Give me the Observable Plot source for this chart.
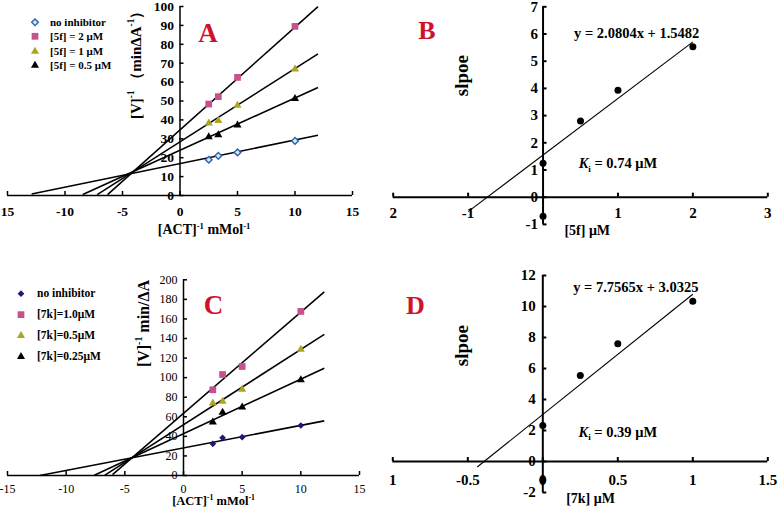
<!DOCTYPE html>
<html>
<head>
<meta charset="utf-8">
<script src="https://cdn.jsdelivr.net/npm/d3@7"></script>
<script src="https://cdn.jsdelivr.net/npm/@observablehq/plot@0.6"></script>
<style>
html,body{margin:0;padding:0;background:#fff;}
#wrap{position:relative;width:777px;height:507px;overflow:hidden;background:#fff;font-family:"Liberation Serif","Times New Roman",serif;}
#wrap > svg{position:absolute;left:0;top:0;}
.lg{position:absolute;left:0;font-weight:bold;color:#000;}
.lg .row{position:relative;white-space:nowrap;}
.lg svg{position:absolute;top:0;overflow:visible;}
.lg span{position:absolute;top:0;}
</style>
</head>
<body>
<div id="wrap"></div>
<script>
// ---------- Panel A : Lineweaver–Burk plot, compound 5f ----------
const actInv = [2.5, 3.33, 5, 10];
const seriesA = ["no inhibitor", "[5f] = 2 μM", "[5f] = 1 μM", "[5f] = 0.5 μM"];
const aNoInhibitor = [18.9, 21.0, 22.8, 28.9];
const a5f2 = [48.4, 52.3, 62.5, 89.5];
const a5f1 = [38.3, 39.6, 47.7, 66.8];
const a5f05 = [31.0, 32.1, 37.2, 51.2];
const aFitSlope = [1.25, 5.44, 3.88, 2.77];
const aFitIntercept = [16.9, 34.7, 28.4, 23.9];
const aFitFrom = [-12.9, -6.3, -7.2, -8.45];
const aFitTo = [12, 12, 12, 12];
const aXTicks = [-15, -10, -5, 0, 5, 10, 15];
const aXLabels = ["15", "-10", "-5", "0", "5", "10", "15"];
const aYTicks = [0, 10, 20, 30, 40, 50, 60, 70, 80, 90, 100];
const aYLabels = ["0", "10", "20", "30", "40", "50", "60", "70", "80", "90", "100"];

// ---------- Panel B : secondary plot, 5f ----------
const bConc = [0, 0, 0.5, 1, 2];
const bSlope = [1.25, -0.7, 2.8, 3.93, 5.53];
const bFitSlope = 2.0804;
const bFitIntercept = 1.5482;
const bFitRange = [-1, 2];
const bEquation = "y = 2.0804x + 1.5482";
const bKi = "{i:K}_{i} = 0.74 μM";
const bXTicks = [-2, -1, 1, 2, 3];
const bXLabels = ["2", "-1", "1", "2", "3"];
const bYTicks = [-1, 0, 1, 2, 3, 4, 5, 6, 7];
const bYLabels = ["-1", "0", "1", "2", "3", "4", "5", "6", "7"];

// ---------- Panel C : Lineweaver–Burk plot, compound 7k ----------
const seriesC = ["no inhibitor", "[7k]=1.0μM", "[7k]=0.5μM", "[7k]=0.25μM"];
const cNoInhibitor = [32.4, 38.5, 39.2, 51.1];
const c7k10 = [87.6, 103.2, 111.4, 167.7];
const c7k05 = [74.0, 75.7, 88.0, 128.8];
const c7k025 = [54.5, 64.4, 69.9, 97.8];
const cFitSlope = [2.305, 10.35, 7.69, 5.58];
const cFitIntercept = [28.2, 63.5, 51.9, 42.7];
const cFitFrom = [-12.25, -6.05, -6.7, -7.6];
const cFitTo = [12, 12, 12, 12];
const cXTicks = [-15, -10, -5, 0, 5, 10, 15];
const cXLabels = ["-15", "-10", "-5", "0", "5", "10", "15"];
const cYTicks = [0, 20, 40, 60, 80, 100, 120, 140, 160, 180, 200];
const cYLabels = ["0", "20", "40", "60", "80", "100", "120", "140", "160", "180", "200"];

// ---------- Panel D : secondary plot, 7k ----------
const dConc = [0, 0, 0.25, 0.5, 1];
const dSlope = [2.32, -1.2, 5.55, 7.6, 10.34];
const dFitSlope = 7.7565;
const dFitIntercept = 3.0325;
const dFitRange = [-0.437, 1];
const dEquation = "y = 7.7565x + 3.0325";
const dKi = "{i:K}_{i} = 0.39 μM";
const dXTicks = [-1, -0.5, 0, 0.5, 1, 1.5];
const dXLabels = ["1", "-0.5", "0", "0.5", "1", "1.5"];
const dYTicks = [-2, 0, 2, 4, 6, 8, 10, 12];
const dYLabels = ["-2", "0", "2", "4", "6", "8", "10", "12"];

// ---------- styling ----------
const symbolsLB = ["diamond2", "square", "triangle", "triangle"];
const fillsA = ["#d8e7f7", "#c9508f", "#aba61f", "#000000"];
const strokesA = ["#2a62ae", "none", "none", "none"];
const fillsC = ["#1b1b6e", "#c9508f", "#aba61f", "#000000"];
const strokesC = ["none", "none", "none", "none"];
const symbolR = [3, 3.8, 3, 3];
const RED = "#d0112b";
const SERIF = "'Liberation Serif','Times New Roman',serif";
const W = 777, H = 507;
const wrap = document.getElementById("wrap");

function frame(xDomain, xPix, yDomain, yPix, marks) {
  return Plot.plot({
    width: W, height: H,
    marginLeft: xPix[0], marginRight: W - xPix[1],
    marginTop: yPix[1], marginBottom: H - yPix[0],
    x: {domain: xDomain, axis: null},
    y: {domain: yDomain, axis: null},
    style: {background: "transparent", overflow: "visible", fontFamily: SERIF, color: "#000"},
    marks
  });
}

function axisMarks(o) {
  return [
    Plot.ruleY([0], {x1: o.xExtent[0], x2: o.xExtent[1], stroke: "#000", strokeWidth: o.sw}),
    Plot.ruleX([0], {y1: o.yExtent[0], y2: o.yExtent[1], stroke: "#000", strokeWidth: o.sw}),
    Plot.ruleX(o.xTicks, {x: d => d, y1: 0, y2: 0, insetTop: -4, stroke: "#000", strokeWidth: o.sw}),
    Plot.ruleY(o.yTicks, {y: d => d, x1: 0, x2: 0, insetRight: -4, stroke: "#000", strokeWidth: o.sw}),
    Plot.text(o.xTicks, {x: d => d, y: 0, text: (d, i) => o.xLabels[i], dy: o.xdy, fontSize: o.fs, fontWeight: o.fw, fill: "#000"}),
    Plot.text(o.yTicks, {x: 0, y: d => d, text: (d, i) => o.yLabels[i], dx: o.ydx, textAnchor: "end", fontSize: o.fs, fontWeight: o.fw, fill: "#000"})
  ];
}

function fitLinks(slopes, intercepts, from, to, sw) {
  const idx = slopes.map((_, k) => k);
  return Plot.link(idx, {
    x1: k => from[k], y1: k => slopes[k] * from[k] + intercepts[k],
    x2: k => to[k], y2: k => slopes[k] * to[k] + intercepts[k],
    stroke: "#000", strokeWidth: sw
  });
}

function seriesDots(xs, valueSets, fills, strokes) {
  return valueSets.map((vals, k) => Plot.dot(xs.map((x, i) => ({x, y: vals[i]})), {
    x: "x", y: "y", symbol: symbolsLB[k], r: symbolR[k],
    fill: fills[k], stroke: strokes[k], strokeWidth: strokes[k] === "none" ? 0 : 1.4
  }));
}

function richify(svg) {
  const NS = "http://www.w3.org/2000/svg";
  svg.querySelectorAll("text").forEach(t => {
    const s = t.textContent;
    if (!/\^\{|_\{|\{i:/.test(s)) return;
    const fs = parseFloat(getComputedStyle(t).fontSize) || 12;
    t.textContent = "";
    const re = /\^\{([^}]*)\}|_\{([^}]*)\}|\{i:([^}]*)\}|([^{}^_]+)/g;
    let m, shift = 0;
    while ((m = re.exec(s))) {
      const ts = document.createElementNS(NS, "tspan");
      let target = 0, small = false;
      if (m[1] !== undefined) { ts.textContent = m[1]; target = -0.42 * fs; small = true; }
      else if (m[2] !== undefined) { ts.textContent = m[2]; target = 0.25 * fs; small = true; }
      else if (m[3] !== undefined) { ts.textContent = m[3]; ts.setAttribute("font-style", "italic"); }
      else ts.textContent = m[4];
      if (small) ts.setAttribute("font-size", (fs * 0.62).toFixed(1));
      if (target !== shift) { ts.setAttribute("dy", (target - shift).toFixed(2)); shift = target; }
      t.appendChild(ts);
    }
  });
}

function add(svg) { wrap.appendChild(svg); richify(svg); }

function legend(names, fills, strokes, cfg) {
  const box = document.createElement("div");
  box.className = "lg";
  box.style.top = cfg.top + "px";
  box.style.fontSize = cfg.fontSize + "px";
  const types = {diamond2: d3.symbolDiamond2, square: d3.symbolSquare, triangle: d3.symbolTriangle};
  names.forEach((name, k) => {
    const row = document.createElement("div");
    row.className = "row";
    row.style.height = cfg.rowH + "px";
    const s = d3.create("svg").attr("width", 12).attr("height", cfg.rowH)
      .style("left", (cfg.markerX - 6) + "px");
    s.append("path")
      .attr("d", d3.symbol(types[symbolsLB[k]], symbolR[k] * symbolR[k] * Math.PI)())
      .attr("transform", `translate(6,${cfg.rowH / 2})`)
      .attr("fill", fills[k]).attr("stroke", strokes[k])
      .attr("stroke-width", strokes[k] === "none" ? 0 : 1.4);
    row.appendChild(s.node());
    const sp = document.createElement("span");
    sp.textContent = name;
    sp.style.left = cfg.textX + "px";
    sp.style.lineHeight = cfg.rowH + "px";
    row.appendChild(sp);
    box.appendChild(row);
  });
  wrap.appendChild(box);
}

// ---------- Panel A ----------
add(frame([-15, 15], [7, 352], [0, 100], [195, 6], [
  ...axisMarks({xExtent: [-15, 15], yExtent: [0, 100], xTicks: aXTicks, xLabels: aXLabels,
    yTicks: aYTicks, yLabels: aYLabels, sw: 1.5, fs: 13.5, fw: "bold", xdy: 16, ydx: -6}),
  fitLinks(aFitSlope, aFitIntercept, aFitFrom, aFitTo, 1.6),
  ...seriesDots(actInv, [aNoInhibitor, a5f2, a5f1, a5f05], fillsA, strokesA),
  Plot.text(["A"], {x: 2.43, y: 85.7, fontSize: 27, fontWeight: "bold", fill: RED}),
  Plot.text(["[V]^{-1} （minΔA^{-1}）"], {x: -3.85, y: 71, rotate: -90, fontSize: 15, fontWeight: "bold", fill: "#000"}),
  Plot.text(["[ACT]^{-1} mMol^{-1}"], {x: 2.1, y: -18.2, fontSize: 14, fontWeight: "bold", fill: "#000"})
]));

// ---------- Panel B ----------
add(frame([-2, 3], [392.7, 767.3], [-1, 7], [223.9, 6.3], [
  ...axisMarks({xExtent: [-2, 3], yExtent: [-1, 7], xTicks: bXTicks, xLabels: bXLabels,
    yTicks: bYTicks, yLabels: bYLabels, sw: 2, fs: 15, fw: "bold", xdy: 16, ydx: -5}),
  Plot.link([0], {x1: bFitRange[0], y1: bFitSlope * bFitRange[0] + bFitIntercept,
    x2: bFitRange[1], y2: bFitSlope * bFitRange[1] + bFitIntercept, stroke: "#000", strokeWidth: 1.1}),
  Plot.dot(bConc.map((x, i) => ({x, y: bSlope[i]})), {x: "x", y: "y", r: 3.5, fill: "#000"}),
  Plot.text(["B"], {x: -1.55, y: 6.13, fontSize: 26, fontWeight: "bold", fill: RED}),
  Plot.text(["slpoe"], {x: -1.08, y: 4.47, rotate: -90, fontSize: 19, fontWeight: "bold", fill: "#000"}),
  Plot.text([bEquation], {x: 1.25, y: 6.02, fontSize: 14.5, fontWeight: "bold", fill: "#000"}),
  Plot.text([bKi], {x: 1.0, y: 1.24, fontSize: 14.5, fontWeight: "bold", fill: "#000"}),
  Plot.text(["[5f] μM"], {x: 0.59, y: -1.22, fontSize: 14, fontWeight: "bold", fill: "#000"})
]));

// ---------- Panel C ----------
add(frame([-15, 15], [7, 359], [0, 200], [475, 279.3], [
  ...axisMarks({xExtent: [-15, 15], yExtent: [0, 200], xTicks: cXTicks, xLabels: cXLabels,
    yTicks: cYTicks, yLabels: cYLabels, sw: 1.5, fs: 12, fw: "normal", xdy: 13.5, ydx: -6}),
  fitLinks(cFitSlope, cFitIntercept, cFitFrom, cFitTo, 1.6),
  ...seriesDots(actInv, [cNoInhibitor, c7k10, c7k05, c7k025], fillsC, strokesC),
  Plot.text(["C"], {x: 2.56, y: 173.7, fontSize: 27, fontWeight: "bold", fill: RED}),
  Plot.text(["[V]^{-1} min/ΔA"], {x: -3.38, y: 155.3, rotate: -90, fontSize: 16, fontWeight: "bold", fill: "#000"}),
  Plot.text(["[ACT]^{-1} mMol^{-1}"], {x: 2.56, y: -26.5, fontSize: 12.5, fontWeight: "bold", fill: "#000"})
]));

// ---------- Panel D ----------
add(frame([-1, 1.5], [392.3, 767.3], [-2, 12], [492, 275], [
  ...axisMarks({xExtent: [-1, 1.5], yExtent: [-2, 12], xTicks: dXTicks, xLabels: dXLabels,
    yTicks: dYTicks, yLabels: dYLabels, sw: 2, fs: 15, fw: "bold", xdy: 19, ydx: -7}),
  Plot.link([0], {x1: dFitRange[0], y1: dFitSlope * dFitRange[0] + dFitIntercept,
    x2: dFitRange[1], y2: dFitSlope * dFitRange[1] + dFitIntercept, stroke: "#000", strokeWidth: 1.1}),
  Plot.dot(dConc.map((x, i) => ({x, y: dSlope[i]})), {x: "x", y: "y", r: 3.5, fill: "#000"}),
  Plot.text(["D"], {x: -0.85, y: 10.06, fontSize: 26, fontWeight: "bold", fill: RED}),
  Plot.text(["slpoe"], {x: -0.537, y: 7.48, rotate: -90, fontSize: 19, fontWeight: "bold", fill: "#000"}),
  Plot.text([dEquation], {x: 0.62, y: 11.23, fontSize: 14.5, fontWeight: "bold", fill: "#000"}),
  Plot.text([dKi], {x: 0.5, y: 1.89, fontSize: 14.5, fontWeight: "bold", fill: "#000"}),
  Plot.text(["[7k] μM"], {x: 0.318, y: -2.41, fontSize: 14, fontWeight: "bold", fill: "#000"})
]));

// ---------- Legends ----------
legend(seriesA, fillsA, strokesA, {top: 14.7, rowH: 14.6, markerX: 35, textX: 50, fontSize: 11});
legend(seriesC, fillsC, strokesC, {top: 282.5, rowH: 21.3, markerX: 21, textX: 37, fontSize: 11.5});
</script>
</body>
</html>
